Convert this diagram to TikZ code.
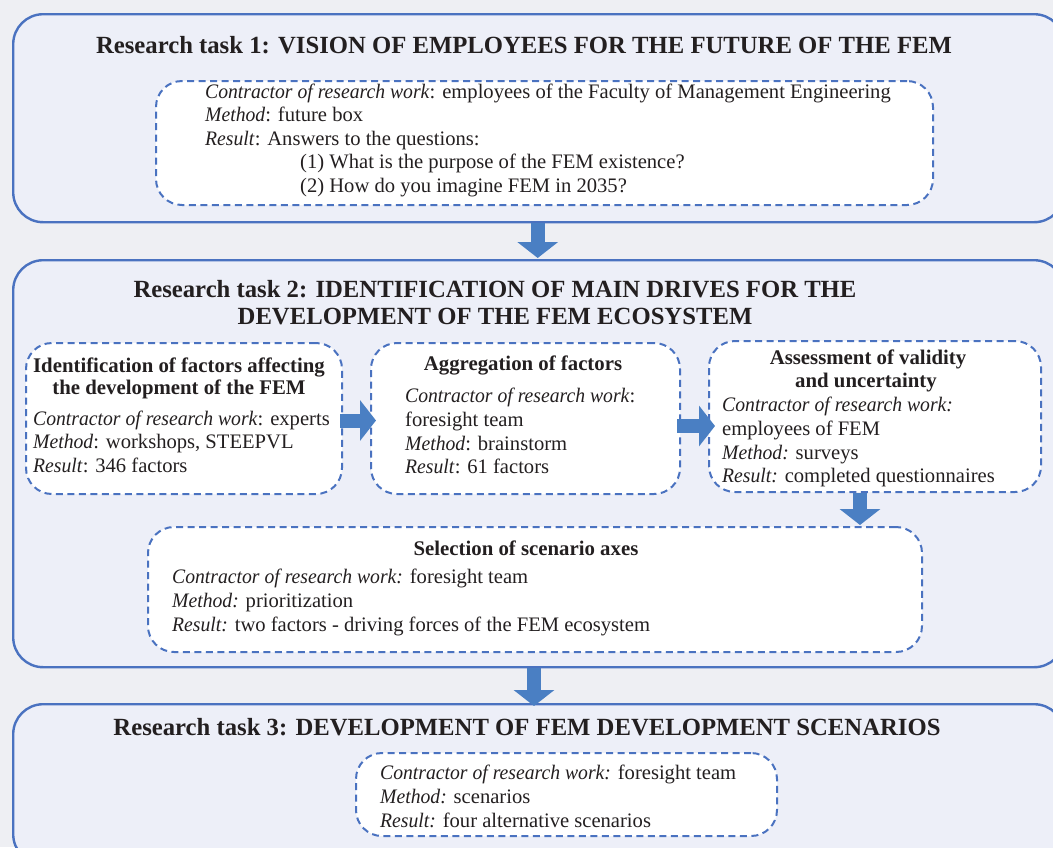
\documentclass[tikz,border=0pt]{standalone}
\usepackage{fontspec}
\setmainfont{Liberation Serif}[ItalicFeatures={FakeStretch=0.955}]
\usetikzlibrary{arrows.meta}
\definecolor{pagebg}{HTML}{EEEFF3}
\definecolor{taskfill}{HTML}{EDEFF8}
\definecolor{frameblue}{HTML}{4A72C0}
\definecolor{arrowblue}{HTML}{4A7FC3}
\definecolor{ink}{HTML}{231F20}
\tikzset{
  taskbox/.style={draw=frameblue, line width=2.4pt, fill=taskfill, rounded corners=30pt},
  stagebox/.style={draw=frameblue, line width=2pt, fill=white, rounded corners=26pt,
    dash pattern=on 7pt off 4.5pt, inner sep=0pt},
  tasktitle/.style={font=\fontsize{24.7}{28}\selectfont\bfseries, text=ink, inner sep=0pt},
  stagetitle/.style={font=\fontsize{20.8}{24}\selectfont\bfseries, text=ink, inner sep=0pt, anchor=base},
  line/.style={font=\fontsize{20.6}{24}\selectfont, text=ink, inner sep=0pt, anchor=base west},
  flow/.style={draw=arrowblue, fill=arrowblue, line width=14pt,
    -{Triangle[length=16pt,width=40pt]}},
}
\begin{document}
\begin{tikzpicture}[x=1pt,y=-1pt]
\useasboundingbox (0,0) rectangle (1053,847);
\fill[pagebg] (0,0) rectangle (1053,847);
\begin{scope}
\clip (0,0) rectangle (1053,847);

% three research tasks
\node[taskbox, minimum width=1051pt, minimum height=208pt, anchor=north west] (task1) at (12,13) {};
\node[taskbox, minimum width=1051pt, minimum height=407pt, anchor=north west] (task2) at (12,259) {};
\node[taskbox, minimum width=1051pt, minimum height=160pt, anchor=north west] (task3) at (12,703) {};

% task 1
\node[tasktitle, anchor=base] (title1) at (524,53) {Research task 1: VISION OF EMPLOYEES FOR THE FUTURE OF THE FEM};
\node[stagebox, minimum width=777pt, minimum height=124pt, anchor=north west] (vision) at (155,80) {};
\node[line] (v1) at (205,98) {\textit{Contractor of research work}: employees of the Faculty of Management Engineering};
\node[line] (v2) at (205,121.5) {\textit{Method}: future box};
\node[line] (v3) at (205,145) {\textit{Result}: Answers to the questions:};
\node[line] (v4) at (300,168.5) {(1) What is the purpose of the FEM existence?};
\node[line] (v5) at (300,192) {(2) How do you imagine FEM in 2035?};

% task 2
\node[tasktitle, anchor=base] (title2a) at (495,297) {Research task 2: IDENTIFICATION OF MAIN DRIVES FOR THE};
\node[tasktitle, anchor=base] (title2b) at (495,324) {DEVELOPMENT OF THE FEM ECOSYSTEM};

\node[stagebox, minimum width=316pt, minimum height=151pt, anchor=north west] (ident) at (25,342) {};
\node[stagetitle] (ia) at (179,372) {Identification of factors affecting};
\node[stagetitle] (ib) at (179,394) {the development of the FEM};
\node[line] (i1) at (33,425) {\textit{Contractor of research work}: experts};
\node[line] (i2) at (33,448.5) {\textit{Method}: workshops, STEEPVL};
\node[line] (i3) at (33,472) {\textit{Result}: 346 factors};

\node[stagebox, minimum width=309pt, minimum height=151pt, anchor=north west] (aggr) at (370,342) {};
\node[stagetitle] (ga) at (523,370) {Aggregation of factors};
\node[line] (g1) at (405,402) {\textit{Contractor of research work}:};
\node[line] (g2) at (405,426) {foresight team};
\node[line] (g3) at (405,450) {\textit{Method}: brainstorm};
\node[line] (g4) at (405,473.5) {\textit{Result}: 61 factors};

\node[stagebox, minimum width=332pt, minimum height=151pt, anchor=north west] (assess) at (708,340) {};
\node[stagetitle] (sa) at (868,364) {Assessment of validity};
\node[stagetitle] (sb) at (866,387) {and uncertainty};
\node[line] (s1) at (722,411) {\textit{Contractor of research work:}};
\node[line] (s2) at (722,435) {employees of FEM};
\node[line] (s3) at (722,459) {\textit{Method:} surveys};
\node[line] (s4) at (722,482.5) {\textit{Result:} completed questionnaires};

\node[stagebox, minimum width=774pt, minimum height=125pt, anchor=north west] (axes) at (147,526) {};
\node[stagetitle] (xa) at (526,555) {Selection of scenario axes};
\node[line] (x1) at (172,583) {\textit{Contractor of research work:} foresight team};
\node[line] (x2) at (172,607) {\textit{Method:} prioritization};
\node[line] (x3) at (172,631) {\textit{Result:} two factors - driving forces of the FEM ecosystem};

% task 3
\node[tasktitle, anchor=base] (title3) at (527,735) {Research task 3: DEVELOPMENT OF FEM DEVELOPMENT SCENARIOS};
\node[stagebox, minimum width=421pt, minimum height=83pt, anchor=north west] (scen) at (355,752) {};
\node[line] (e1) at (380,779) {\textit{Contractor of research work:} foresight team};
\node[line] (e2) at (380,803) {\textit{Method:} scenarios};
\node[line] (e3) at (380,827) {\textit{Result:} four alternative scenarios};

% block arrows between the stages
\draw[flow] ([xshift=-1pt]task1.south) -- ([xshift=-1pt,yshift=1pt]task2.north);
\draw[flow] ([xshift=-3pt]ident.east |- 0,420.5) -- ([xshift=6pt]aggr.west |- 0,420.5);
\draw[flow] ([xshift=-4pt]aggr.east |- 0,426) -- ([xshift=7pt]assess.west |- 0,426);
\draw[flow] (assess.south -| 860,0) -- ([yshift=1pt]axes.north -| 860,0);
\draw[flow] (task2.south -| 534,0) -- ([yshift=-3pt]task3.north -| 534,0);
\end{scope}
\end{tikzpicture}
\end{document}
